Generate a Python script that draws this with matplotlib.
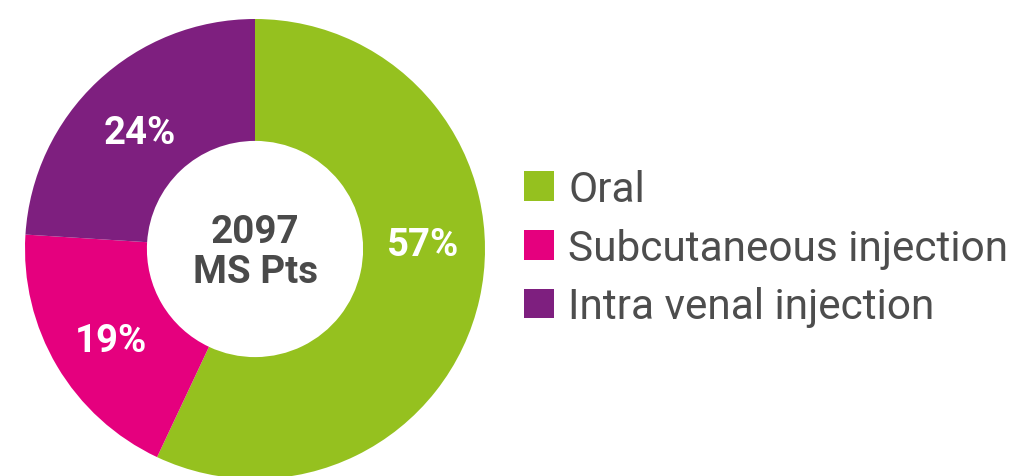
import matplotlib.pyplot as plt

plt.rcParams['font.family'] = ['Roboto', 'DejaVu Sans']

labels = ["Oral", "Subcutaneous injection", "Intra venal injection"]
shares = [57, 19, 24]
colors = ["#95C11F", "#E5007E", "#7E1F7F"]
center_text = "2097\nMS Pts"

W, H = 1017, 477
cx, cy, R = 255, 250, 230

fig = plt.figure(figsize=(W / 100, H / 100), dpi=100)
ax = fig.add_axes([0, 0, 1, 1])

wedges, texts, autotexts = ax.pie(
    shares, colors=colors, startangle=90, counterclock=False,
    radius=1, wedgeprops=dict(width=0.53, linewidth=0),
    autopct=lambda p: f"{p:.0f}%", pctdistance=0.73,
    textprops=dict(color="white", fontsize=27.5, fontweight="bold"))

# nudge labels down a little (text boxes include descent)
for t in autotexts:
    x, y = t.get_position()
    t.set_position((x, y - 0.025))
# the green label sits a bit higher than the wedge middle
autotexts[0].set_position((0.73, 0.02))

ax.text(0, -0.012, center_text, ha="center", va="center", fontsize=27.8,
        fontweight="bold", color="#4a4a4a", linespacing=1.1)

ax.set_xlim(-cx / R, (W - cx) / R)
ax.set_ylim(-(H - cy) / R, cy / R)
ax.set_aspect("equal")
ax.axis("off")

ax.legend(wedges, labels, loc="center left",
          bbox_to_anchor=(524 / W, 1 - 249 / H), frameon=False,
          fontsize=30.5, handlelength=0.71, handleheight=0.71,
          handletextpad=0.33, labelspacing=0.42, borderpad=0,
          borderaxespad=0, labelcolor="#4d4d4d")

fig.savefig("out.png", dpi=100)
